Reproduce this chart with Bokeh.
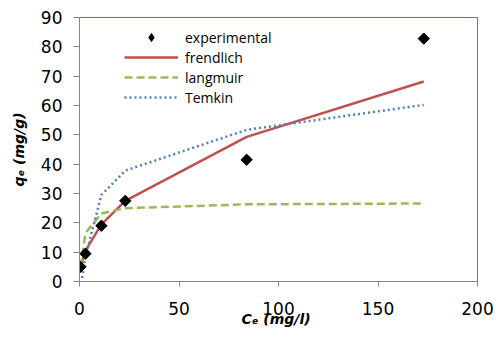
from bokeh.plotting import figure
from bokeh.models import Range1d, Legend, LegendItem, FixedTicker
from bokeh.embed import file_html
from bokeh.resources import INLINE

# Data
ce = [0.5, 3, 11, 23, 84, 173]
qe_experimental = [5.0, 9.5, 19.0, 27.5, 41.5, 82.8]
qe_frendlich = [5.0, 10.5, 19.5, 27.5, 49.3, 68.2]
qe_langmuir = [4.8, 16.5, 23.2, 25.0, 26.3, 26.6]
temkin_ce = [1.3, 3, 11, 23, 84, 173]
qe_temkin = [1.2, 8.5, 29.5, 37.8, 51.7, 60.2]

x_ticks = [0, 50, 100, 150, 200]
y_ticks = [0, 10, 20, 30, 40, 50, 60, 70, 80, 90]

p = figure(width=496, height=342, output_backend="svg", toolbar_location=None,
           x_range=Range1d(0, 200), y_range=Range1d(0, 90),
           min_border_left=79, min_border_right=19, min_border_top=17, min_border_bottom=61)

p.xgrid.visible = False
p.ygrid.visible = False
p.outline_line_color = "#4A7EBB"
p.outline_line_width = 1

grey = "#868686"
for ax in (p.xaxis[0], p.yaxis[0]):
    ax.axis_line_color = grey
    ax.major_tick_line_color = grey
    ax.minor_tick_line_color = None
    ax.major_tick_in = 0
    ax.major_label_text_font = "DejaVu Sans"
    ax.major_label_text_font_size = "17px"
    ax.major_label_text_color = "#000000"
    ax.axis_label_text_font = "DejaVu Sans"
    ax.axis_label_text_font_style = "bold italic"
    ax.axis_label_text_font_size = "14px"
    ax.axis_label_text_color = "#000000"

p.xaxis.major_tick_out = 5
p.yaxis.major_tick_out = 6
p.xaxis.ticker = FixedTicker(ticks=x_ticks)
p.yaxis.ticker = FixedTicker(ticks=y_ticks)
p.xaxis.major_label_standoff = 15
p.yaxis.major_label_standoff = 11
p.xaxis.axis_label = "Cₑ  (mg/l)"
p.yaxis.axis_label = "qₑ (mg/g)"
p.xaxis.axis_label_standoff = -7
p.yaxis.axis_label_standoff = 11

r_fr = p.line(ce, qe_frendlich, line_color="#C0504D", line_width=2.5)
r_la = p.line(ce, qe_langmuir, line_color="#9BBB59", line_width=2.5, line_dash="8 4")
r_te = p.line(temkin_ce, qe_temkin, line_color="#4F81BD", line_width=2.5, line_dash="2 3")
# diamond renderer gives the legend symbol; the rotated square on top gives the plot marker shape
r_exp = p.scatter(ce, qe_experimental, marker="diamond", size=8, color="#000000")
p.scatter(ce, qe_experimental, marker="square", angle=0.785, size=8, color="#000000")

legend = Legend(items=[
    LegendItem(label="experimental", renderers=[r_exp]),
    LegendItem(label="frendlich", renderers=[r_fr]),
    LegendItem(label="langmuir", renderers=[r_la]),
    LegendItem(label="Temkin", renderers=[r_te]),
], location=(45, 174))
legend.padding = 0
legend.margin = 0
legend.spacing = 0
legend.glyph_width = 54
legend.glyph_height = 20
legend.label_height = 20
legend.label_standoff = 7
legend.label_text_font = "Open Sans"
legend.label_text_font_size = "14px"
legend.label_text_color = "#000000"
legend.border_line_color = None
legend.background_fill_alpha = 0
p.add_layout(legend)

open("out.html", "w").write(file_html(p, INLINE))
